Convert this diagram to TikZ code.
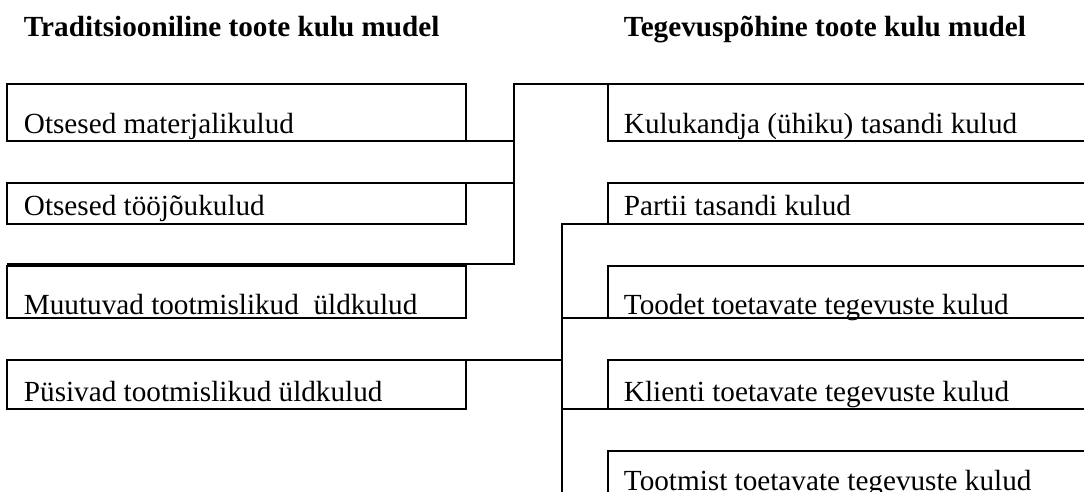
\documentclass[tikz,border=0pt]{standalone}
\usepackage{fontspec}
\setmainfont{Liberation Serif}
\begin{document}
\begin{tikzpicture}[x=0.75pt,y=-0.75pt,line width=1.4pt,
  box/.style={draw,inner sep=0pt,outer sep=0pt,anchor=north west},
  lbl/.style={anchor=base west,inner sep=0pt,font=\fontsize{21.9}{26}\selectfont},
  ttl/.style={anchor=base west,inner sep=0pt,font=\fontsize{21.9}{26}\selectfont\bfseries}]
\useasboundingbox (0,0) rectangle (1084,492);
\clip (0,0) rectangle (1084,492);
% titles
\node[ttl] (tl) at (23,37) {Traditsiooniline toote kulu mudel};
\node[ttl] (tr) at (623,37) {Tegevuspõhine toote kulu mudel};
% left boxes
\node[box,minimum width=459*0.75pt,minimum height=57*0.75pt] (L1) at (7,84) {};
\node[box,minimum width=459*0.75pt,minimum height=41*0.75pt] (L2) at (7,183) {};
\node[box,minimum width=459*0.75pt,minimum height=52*0.75pt] (L3) at (7,266) {};
\node[box,minimum width=459*0.75pt,minimum height=49*0.75pt] (L4) at (7,360) {};
% right boxes
\node[box,minimum width=500*0.75pt,minimum height=57*0.75pt] (R1) at (608,84) {};
\node[box,minimum width=500*0.75pt,minimum height=41*0.75pt] (R2) at (608,183) {};
\node[box,minimum width=500*0.75pt,minimum height=52*0.75pt] (R3) at (608,266) {};
\node[box,minimum width=500*0.75pt,minimum height=49*0.75pt] (R4) at (608,360) {};
\node[box,minimum width=500*0.75pt,minimum height=70*0.75pt] (R5) at (608,451) {};
% labels
\node[lbl] (l1) at (23,133) {Otsesed materjalikulud};
\node[lbl] (l2) at (23,215) {Otsesed tööjõukulud};
\node[lbl] (l3) at (23,314) {Muutuvad tootmislikud\ \ üldkulud};
\node[lbl] (l4) at (23,401) {Püsivad tootmislikud üldkulud};
\node[lbl] (r1) at (623,133) {Kulukandja (ühiku) tasandi kulud};
\node[lbl] (r2) at (623,215) {Partii tasandi kulud};
\node[lbl] (r3) at (623,314) {Toodet toetavate tegevuste kulud};
\node[lbl] (r4) at (623,401) {Klienti toetavate tegevuste kulud};
\node[lbl] (r5) at (623,490) {Tootmist toetavate tegevuste kulud};
% connector A
\coordinate (ja) at (514,264);
\draw (R1.north west) -| (ja) -- (ja -| L3.west);
\draw (L1.south east) -- (L1.south east -| ja);
\draw (L2.north east) -- (L2.north east -| ja);
% connector B
\coordinate (jb) at (562,500);
\draw (R2.south west) -| (jb);
\draw (R3.south west) -- (R3.south west -| jb);
\draw (L4.north east) -- (L4.north east -| jb);
\draw (R4.south west) -- (R4.south west -| jb);
\end{tikzpicture}
\end{document}
